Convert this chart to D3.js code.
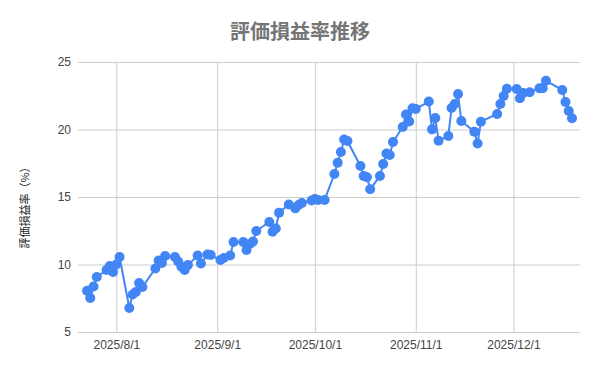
<!DOCTYPE html>
<html>
<head>
<meta charset="utf-8">
<script src="https://cdn.jsdelivr.net/npm/d3@7"></script>
<style>
  body { margin: 0; background: #fff; }
  svg { display: block; }
</style>
</head>
<body>
<div id="chart"></div>
<script>
// 評価損益率 (%) by date
const dates = [
    "2025-07-23", "2025-07-24", "2025-07-25", "2025-07-26", "2025-07-29", "2025-07-30", "2025-07-31", "2025-08-01", "2025-08-02",
    "2025-08-05", "2025-08-06", "2025-08-07", "2025-08-08", "2025-08-09",
    "2025-08-13", "2025-08-14", "2025-08-15", "2025-08-16",
    "2025-08-19", "2025-08-20", "2025-08-21", "2025-08-22", "2025-08-23",
    "2025-08-26", "2025-08-27", "2025-08-29", "2025-08-30",
    "2025-09-02", "2025-09-03", "2025-09-05", "2025-09-06",
    "2025-09-09", "2025-09-10", "2025-09-11", "2025-09-12", "2025-09-13",
    "2025-09-17", "2025-09-18", "2025-09-19", "2025-09-20",
    "2025-09-23", "2025-09-25", "2025-09-26", "2025-09-27",
    "2025-09-30", "2025-10-01", "2025-10-02", "2025-10-04",
    "2025-10-07", "2025-10-08", "2025-10-09", "2025-10-10", "2025-10-11",
    "2025-10-15", "2025-10-16", "2025-10-17", "2025-10-18",
    "2025-10-21", "2025-10-22", "2025-10-23", "2025-10-24", "2025-10-25",
    "2025-10-28", "2025-10-29", "2025-10-30", "2025-10-31", "2025-11-01",
    "2025-11-05", "2025-11-06", "2025-11-07", "2025-11-08",
    "2025-11-11", "2025-11-12", "2025-11-13", "2025-11-14", "2025-11-15",
    "2025-11-19", "2025-11-20", "2025-11-21",
    "2025-11-26", "2025-11-27", "2025-11-28", "2025-11-29",
    "2025-12-02", "2025-12-03", "2025-12-04", "2025-12-06",
    "2025-12-09", "2025-12-10", "2025-12-11",
    "2025-12-16", "2025-12-17", "2025-12-18", "2025-12-19"
];
const values = [
    8.06, 7.52, 8.37, 9.07, 9.59, 9.89, 9.44, 10.0, 10.56,
    6.78, 7.78, 7.96, 8.63, 8.33,
    9.70, 10.30, 10.11, 10.63,
    10.56, 10.22, 9.84, 9.59, 9.96,
    10.67, 10.07, 10.74, 10.70,
    10.33, 10.48, 10.67, 11.67,
    11.67, 11.07, 11.52, 11.70, 12.48,
    13.15, 12.43, 12.67, 13.84,
    14.44, 14.16, 14.41, 14.56,
    14.74, 14.85, 14.78, 14.78,
    16.70, 17.54, 18.33, 19.26, 19.15,
    17.30, 16.56, 16.46, 15.57,
    16.56, 17.44, 18.22, 18.11, 19.07,
    20.19, 21.11, 20.59, 21.57, 21.52,
    22.07, 20.01, 20.85, 19.17,
    19.52, 21.59, 21.89, 22.63, 20.63,
    19.84, 18.96, 20.58,
    21.15, 21.89, 22.48, 23.02,
    23.00, 22.31, 22.70, 22.76,
    23.05, 23.05, 23.61,
    22.93, 22.04, 21.37, 20.83
];
const yTicks = [5, 10, 15, 20, 25];
const xTicks = ["2025-08-01", "2025-09-01", "2025-10-01", "2025-11-01", "2025-12-01"];
const title = "評価損益率推移";
const yTitle = "評価損益率（%）";

const width = 600, height = 371;
const margin = {left: 78, right: 580, top: 62, bottom: 332};
const parse = d3.timeParse("%Y-%m-%d");
const fmt = d3.timeFormat("%Y/%-m/%-d");

const data = dates.map((d, i) => ({ date: parse(d), value: values[i] }));

const svg = d3.select("#chart").append("svg")
    .attr("width", width)
    .attr("height", height);

const x = d3.scaleTime()
    .domain([new Date(2025, 6, 20, 5, 30), new Date(2025, 11, 21, 11)])
    .range([margin.left, margin.right]);

const y = d3.scaleLinear()
    .domain([5, 25])
    .range([margin.bottom, margin.top]);

// title
svg.append("text")
    .attr("x", 300)
    .attr("y", 39)
    .attr("text-anchor", "middle")
    .style("font-family", "'Noto Sans CJK JP', sans-serif")
    .style("font-size", "20px")
    .style("font-weight", "bold")
    .style("fill", "#757575")
    .text(title);

// y axis + horizontal grid
const yAxis = svg.append("g")
    .attr("transform", "translate(" + margin.left + ",0)")
    .call(d3.axisLeft(y).tickValues(yTicks).tickSize(-(margin.right - margin.left)).tickPadding(7));
yAxis.select(".domain").remove();
yAxis.selectAll("line").attr("stroke", "#ccc");
yAxis.selectAll("text")
    .style("font-family", "'Liberation Sans', Arial, sans-serif")
    .style("font-size", "12px")
    .style("fill", "#444");

// x axis + vertical grid
const xAxis = svg.append("g")
    .attr("transform", "translate(0," + margin.bottom + ")")
    .call(d3.axisBottom(x).tickValues(xTicks.map(parse)).tickFormat(fmt)
        .tickSize(-(margin.bottom - margin.top)).tickPadding(8));
xAxis.select(".domain").remove();
xAxis.selectAll("line").attr("stroke", "#ccc");
xAxis.selectAll("text")
    .style("font-family", "'Liberation Sans', Arial, sans-serif")
    .style("font-size", "12px")
    .style("fill", "#444");

// y axis title
svg.append("text")
    .attr("transform", "translate(29,205)rotate(-90)")
    .attr("text-anchor", "middle")
    .style("font-family", "'Noto Sans CJK JP', sans-serif")
    .style("font-size", "11px")
    .style("fill", "#222")
    .text(yTitle);

// line
const line = d3.line()
    .x(d => x(d.date))
    .y(d => y(d.value));

svg.append("path")
    .datum(data)
    .attr("fill", "none")
    .attr("stroke", "#4285f4")
    .attr("stroke-width", 2)
    .attr("d", line);

// points
svg.selectAll("circle.pt")
    .data(data)
    .enter()
    .append("circle")
    .attr("class", "pt")
    .attr("cx", d => x(d.date))
    .attr("cy", d => y(d.value))
    .attr("r", 5)
    .attr("fill", "#4285f4");
</script>
</body>
</html>
